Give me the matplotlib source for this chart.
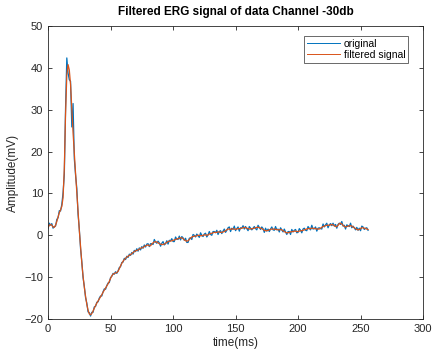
import numpy as np
import matplotlib.pyplot as plt

plt.rcParams['font.family'] = ['Liberation Sans', 'DejaVu Sans']

# ERG response, one sample per ms
t_ms = np.arange(0, 257)

original = [
    1.6, 2.9, 2.4, 2.8, 1.7, 2.1, 2.2, 3.8, 4.2, 5.9, 5.8, 7.4, 10.2,
    14.5, 30.5, 42.4, 38.8, 37.2, 36.8, 25.9, 31.5, 18.3, 14.4, 11.2, 5.0,
    1.5, -3.2, -6.3, -10.1, -12.2, -14.9, -16.2, -18.3, -18.5, -19.3,
    -18.4, -18.4, -17.1, -17.0, -16.0, -15.9, -15.0, -14.5, -14.5, -13.5,
    -12.8, -12.9, -12.0, -11.4, -11.3, -10.1, -9.8, -9.1, -9.3, -8.7, -9.1,
    -8.5, -7.7, -7.5, -6.5, -6.4, -5.5, -5.8, -5.0, -5.3, -4.5, -4.8, -4.1,
    -4.5, -3.6, -3.9, -3.2, -3.8, -3.0, -3.5, -2.7, -3.1, -2.3, -2.8, -2.1,
    -2.0, -2.7, -2.0, -2.0, -2.2, -1.0, -1.6, -1.9, -1.4, -1.8, -2.6, -1.9,
    -1.5, -2.3, -2.0, -1.3, -2.1, -1.2, -1.3, -0.8, -1.5, -1.5, -0.4, -0.9,
    -1.0, -0.2, -1.1, -0.3, -0.6, -1.2, -0.7, -1.7, -1.7, -0.7, -0.6, -1.0,
    0.2, 0.0, -0.4, 0.3, -0.1, -0.5, 0.6, 0.0, -0.3, 0.3, 0.5, -0.4, 0.1,
    0.9, 0.2, 0.0, 0.9, 0.9, 0.6, 1.2, 0.2, 0.9, 1.1, 0.4, 1.0, 1.5, 0.7,
    1.2, 1.8, 2.0, 0.9, 1.7, 1.4, 2.2, 1.1, 1.6, 2.0, 1.0, 1.8, 1.7, 2.3,
    1.5, 2.1, 1.6, 1.1, 2.1, 1.7, 1.3, 1.7, 2.1, 1.6, 1.3, 2.4, 1.9, 1.4,
    2.0, 1.6, 0.7, 1.7, 1.0, 1.5, 0.9, 1.5, 2.0, 1.3, 1.2, 2.1, 1.3, 1.5,
    0.8, 1.8, 1.3, 0.8, 1.5, 0.8, 0.2, 0.9, 0.9, 0.2, 1.4, 0.8, 1.2, 1.4,
    0.6, 0.7, 1.6, 1.2, 0.6, 1.5, 1.7, 1.2, 1.1, 2.1, 1.7, 1.3, 2.4, 1.5,
    1.6, 2.0, 1.0, 1.7, 1.8, 1.6, 1.5, 2.7, 2.0, 2.5, 2.9, 1.8, 2.5, 2.8,
    2.3, 2.9, 2.2, 2.6, 1.7, 2.6, 2.9, 2.6, 3.3, 2.2, 2.4, 1.5, 2.5, 2.3,
    2.1, 2.9, 1.8, 2.2, 1.8, 1.3, 1.9, 1.2, 1.7, 1.1, 2.2, 2.0, 1.4, 1.7,
    1.8, 1.2,
]

filtered = [
    1.9, 2.4, 2.6, 2.4, 2.0, 1.9, 2.4, 3.3, 4.4, 5.4, 6.1, 6.9, 9.0,
    16.0, 29.0, 38.3, 40.8, 39.5, 36.0, 30.0, 24.5, 19.5, 14.8, 10.2, 5.5,
    1.2, -2.8, -6.6, -9.8, -12.4, -14.6, -16.5, -17.9, -18.8, -19.0, -18.7,
    -18.1, -17.4, -16.8, -16.2, -15.7, -15.2, -14.7, -14.2, -13.6, -13.1,
    -12.6, -12.1, -11.6, -11.0, -10.3, -9.7, -9.3, -9.1, -9.0, -8.9, -8.6,
    -8.0, -7.3, -6.7, -6.2, -5.8, -5.5, -5.2, -5.0, -4.8, -4.6, -4.4, -4.1,
    -3.9, -3.7, -3.6, -3.5, -3.3, -3.1, -3.0, -2.9, -2.7, -2.5, -2.4,
    -2.3, -2.5, -2.5, -2.1, -1.8, -1.6, -1.5, -1.6, -1.8, -2.0, -2.1, -2.2,
    -2.2, -2.1, -1.9, -1.7, -1.5, -1.4, -1.4, -1.3, -1.2, -1.1, -1.0, -0.9,
    -0.8, -0.7, -0.6, -0.6, -0.8, -1.1, -1.3, -1.4, -1.3, -1.0, -0.7, -0.4,
    -0.3, -0.2, -0.2, -0.1, 0.0, 0.0, -0.1, -0.1, 0.0, 0.1, 0.1, 0.0, 0.1,
    0.3, 0.4, 0.5, 0.6, 0.7, 0.7, 0.7, 0.8, 0.8, 0.7, 0.7, 0.8, 0.9, 1.1,
    1.3, 1.5, 1.5, 1.4, 1.5, 1.6, 1.5, 1.4, 1.5, 1.6, 1.6, 1.6, 1.7, 1.8,
    1.9, 1.8, 1.7, 1.6, 1.5, 1.5, 1.6, 1.6, 1.7, 1.8, 1.9, 1.9, 1.8, 1.7,
    1.6, 1.4, 1.2, 1.1, 1.1, 1.2, 1.3, 1.4, 1.5, 1.5, 1.5, 1.4, 1.4, 1.3,
    1.3, 1.4, 1.3, 1.1, 0.9, 0.7, 0.6, 0.6, 0.7, 0.8, 0.9, 0.9, 1.0, 1.0,
    0.9, 0.9, 1.0, 1.1, 1.1, 1.2, 1.3, 1.4, 1.5, 1.6, 1.6, 1.6, 1.7, 1.7,
    1.6, 1.6, 1.5, 1.5, 1.5, 1.7, 1.9, 2.1, 2.2, 2.3, 2.4, 2.4, 2.4, 2.5,
    2.6, 2.5, 2.3, 2.1, 2.1, 2.4, 2.8, 2.9, 2.7, 2.4, 2.1, 2.0, 2.1, 2.2,
    2.3, 2.3, 2.2, 2.0, 1.8, 1.6, 1.4, 1.3, 1.4, 1.6, 1.8, 1.8, 1.7, 1.6,
    1.5, 1.4,
]

fig = plt.figure(figsize=(4.33, 3.58), dpi=100)
ax = fig.add_axes([0.111, 0.109, 0.866, 0.818])

ax.plot(t_ms, original, color='#0072BD', lw=0.9, label='original')
ax.plot(t_ms, filtered, color='#D95319', lw=0.9, label='filtered signal')

ax.set_xlim(0, 300)
ax.set_ylim(-20, 50)
ax.set_xticks(np.arange(0, 301, 50))
ax.set_yticks(np.arange(-20, 51, 10))
ax.tick_params(direction='in', top=True, right=True, labelsize=8,
               length=3, width=0.6, colors='#262626')
for sp in ax.spines.values():
    sp.set_color('#262626')
    sp.set_linewidth(0.6)

ax.set_xlabel('time(ms)', fontsize=8.5, color='#262626', labelpad=2)
ax.set_ylabel('Amplitude(mV)', fontsize=8.5, color='#262626', labelpad=4)
ax.set_title('Filtered ERG signal of data Channel -30db', fontsize=8.5,
             fontweight='bold', pad=8)

leg = ax.legend(loc='upper right', fontsize=7.5, frameon=True, fancybox=False,
                borderpad=0.3, handlelength=3.1, handletextpad=0.4,
                labelspacing=0.1, bbox_to_anchor=(0.975, 0.985))
leg.get_frame().set_edgecolor('#262626')
leg.get_frame().set_linewidth(0.6)
for line in leg.get_lines():
    line.set_linewidth(0.7)

fig.savefig('out.png', dpi=100)
